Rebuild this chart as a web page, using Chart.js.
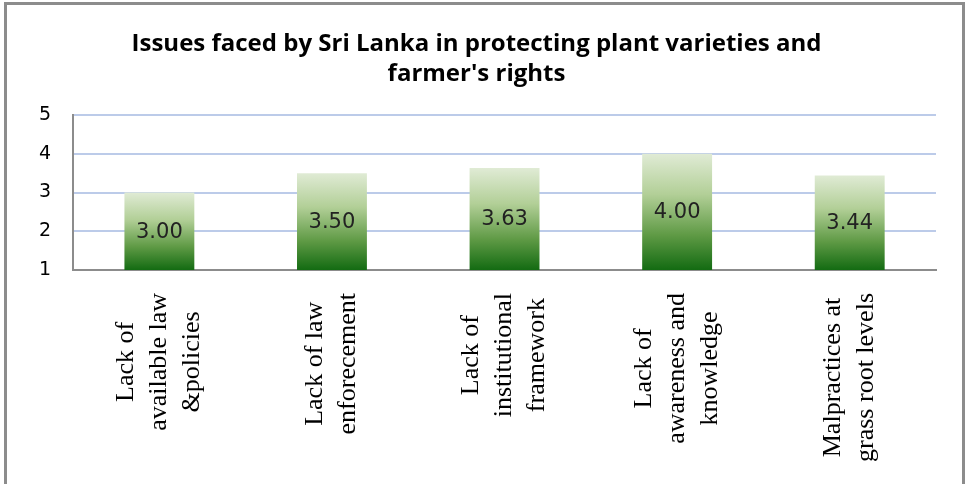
<!DOCTYPE html>
<html>
<head>
<meta charset="utf-8">
<script src="https://cdn.jsdelivr.net/npm/chart.js@4.4.0/dist/chart.umd.min.js"></script>
<style>
    html, body { margin: 0; padding: 0; background: #fff; }
    #wrap {
        position: absolute; left: 4px; top: 2px; width: 955px; height: 490px;
        border: 3px solid #8c8c8c; border-bottom: none; box-sizing: content-box;
    }
    #chart { position: absolute; left: 0; top: 0; }
</style>
</head>
<body>
<div id="wrap"><canvas id="chart" width="955" height="482"></canvas></div>
<script>
// Chart data
const titleLines = ["Issues faced by Sri Lanka in protecting plant varieties and", "farmer's rights"];
const categories = [
    ["Lack of", "available law", "&policies"],
    ["Lack of law", "enforecement"],
    ["Lack of", "institutional", "framework"],
    ["Lack of", "awareness and", "knowledge"],
    ["Malpractices at", "grass root levels"]
];
const values = [3.00, 3.50, 3.63, 4.00, 3.44];
const yTicks = [1, 2, 3, 4, 5];

// Green gradient for each bar, top light to bottom dark
function barGradient(context) {
    const chart = context.chart;
    const area = chart.chartArea;
    if (!area) return "#6fa34f";
    const y = chart.scales.y;
    const top = y.getPixelForValue(values[context.dataIndex]);
    const bottom = y.getPixelForValue(1);
    const g = chart.ctx.createLinearGradient(0, top, 0, bottom);
    g.addColorStop(0, "#e0ebd5");
    g.addColorStop(0.35, "#b2cf97");
    g.addColorStop(0.7, "#5f9a45");
    g.addColorStop(1, "#136b12");
    return g;
}

// Value labels in the middle of each visible bar
const valueLabels = {
    id: "valueLabels",
    afterDatasetsDraw(chart) {
        const ctx = chart.ctx;
        const meta = chart.getDatasetMeta(0);
        const bottom = chart.scales.y.getPixelForValue(1);
        ctx.save();
        ctx.font = "21px 'DejaVu Sans'";
        ctx.fillStyle = "#222";
        ctx.textAlign = "center";
        ctx.textBaseline = "middle";
        meta.data.forEach((bar, i) => {
            ctx.fillText(values[i].toFixed(2), bar.x, (bar.y + bottom) / 2 + 1);
        });
        ctx.restore();
    }
};

// Rotated category labels, lines centred in their block
const xLabels = {
    id: "xLabels",
    afterDraw(chart) {
        const ctx = chart.ctx;
        const x = chart.scales.x;
        const lineH = 33;
        ctx.save();
        ctx.font = "26px 'Liberation Serif'";
        ctx.fillStyle = "#000";
        ctx.textAlign = "center";
        ctx.textBaseline = "middle";
        categories.forEach((lines, i) => {
            const w = Math.max(...lines.map(l => ctx.measureText(l).width));
            const cx = x.getPixelForValue(i);
            const cy = chart.chartArea.bottom + 23 + w / 2;
            ctx.save();
            ctx.translate(cx, cy);
            ctx.rotate(-Math.PI / 2);
            lines.forEach((l, j) => {
                ctx.fillText(l, 0, (j - (lines.length - 1) / 2) * lineH);
            });
            ctx.restore();
        });
        ctx.restore();
    }
};

const ctx = document.getElementById("chart").getContext("2d");
new Chart(ctx, {
    type: "bar",
    data: {
        labels: categories.map(c => c.join(" ")),
        datasets: [{
            data: values,
            backgroundColor: barGradient,
            borderWidth: 0,
            barPercentage: 0.405,
            categoryPercentage: 1
        }]
    },
    options: {
        responsive: false,
        animation: false,
        layout: { padding: { left: 10, right: 26, top: 0, bottom: 217 } },
        plugins: {
            legend: { display: false },
            tooltip: { enabled: false },
            title: {
                display: true,
                text: titleLines,
                color: "#000",
                font: { family: "Open Sans", size: 24, weight: "bold", lineHeight: 1.25 },
                padding: { top: 24, bottom: 26 }
            }
        },
        scales: {
            x: {
                grid: { display: false, drawTicks: false },
                border: { color: "#8c8c8c", width: 2 },
                ticks: { display: false }
            },
            y: {
                min: 1,
                max: 5,
                afterBuildTicks: axis => { axis.ticks = yTicks.map(v => ({ value: v })); },
                grid: {
                    color: ctx => ctx.tick && ctx.tick.value === 1 ? "rgba(0,0,0,0)" : "#bccbe9",
                    lineWidth: 2,
                    drawTicks: false
                },
                border: { color: "#8c8c8c", width: 2 },
                ticks: {
                    color: "#000",
                    font: { family: "DejaVu Sans", size: 19 },
                    padding: 22
                }
            }
        }
    },
    plugins: [valueLabels, xLabels]
});
</script>
</body>
</html>
